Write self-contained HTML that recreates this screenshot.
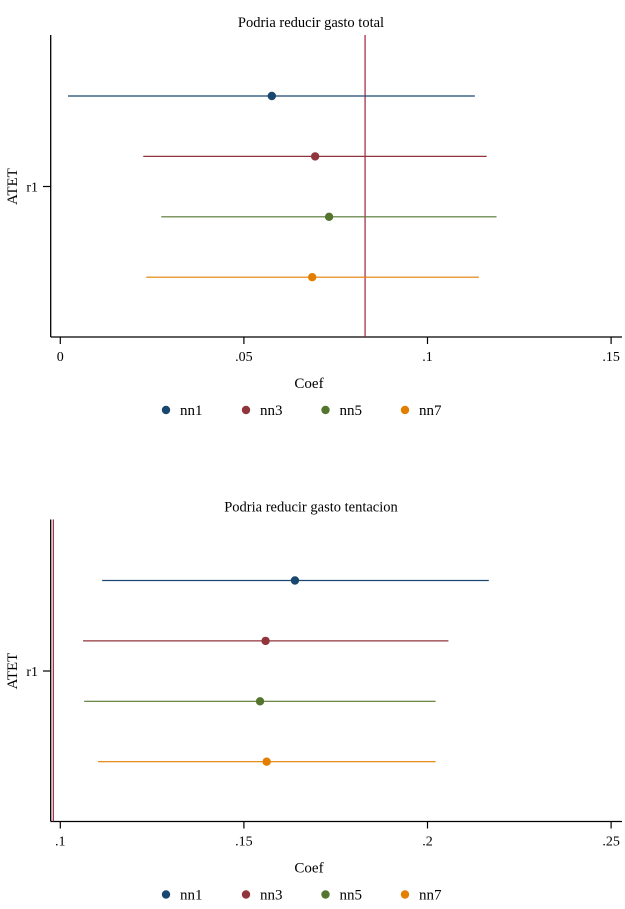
<!DOCTYPE html>
<html><head><meta charset="utf-8"><style>
html,body{margin:0;padding:0;background:#fff;}
svg{display:block;font-family:"Liberation Serif",serif;}
</style></head><body>
<svg id="chart" width="625" height="909" viewBox="0 0 625 909" xmlns="http://www.w3.org/2000/svg"></svg>
<script>
const seriesNames = ["nn1","nn3","nn5","nn7"];
const seriesColors = ["#1a476f","#90353b","#55752f","#e37e00"];
const panelTitles = ["Podria reducir gasto total","Podria reducir gasto tentacion"];
const refValues = [0.083, 0.0981];
const xTicks1 = [0, 0.05, 0.1, 0.15];
const xTickLabels1 = ["0",".05",".1",".15"];
const xTicks2 = [0.1, 0.15, 0.2, 0.25];
const xTickLabels2 = [".1",".15",".2",".25"];
const point1 = [0.0576, 0.0694, 0.0732, 0.0686];
const lower1 = [0.0021, 0.0226, 0.0275, 0.0234];
const upper1 = [0.1129, 0.1161, 0.1188, 0.1140];
const point2 = [0.1639, 0.1559, 0.1544, 0.1562];
const lower2 = [0.1114, 0.1062, 0.1065, 0.1103];
const upper2 = [0.2167, 0.2057, 0.2022, 0.2022];

const svg = document.getElementById('chart');
const NS = "http://www.w3.org/2000/svg";
function mk(tag, attrs, parent){ const e=document.createElementNS(NS,tag); for(const k in attrs) e.setAttribute(k,attrs[k]); (parent||svg).appendChild(e); return e; }

function panel(idx, top, xmin, ticks, labels, pts, lo, hi){
  const g = mk('g',{});
  
  
  const axisLeft = 50.7, axisBottom = top + 302, plotTop = top;
  const x = v => 60.3 + (v - xmin) * 3672;
  const rowY = i => plotTop + 61 + i * 60.4;
  const t = mk('text',{x:311,y:top-8,'text-anchor':'middle','font-size':14.5,fill:'#000'},g);
  t.textContent = panelTitles[idx];
  
  
  const ya = mk('line',{x1:axisLeft,y1:plotTop,x2:axisLeft,y2:axisBottom,stroke:'#000','stroke-width':1.3},g);
  
  
  const xa = mk('line',{x1:axisLeft,y1:axisBottom,x2:622,y2:axisBottom,stroke:'#000','stroke-width':1.3},g);
  
  
  const rl = mk('line',{x1:x(refValues[idx]),y1:plotTop,x2:x(refValues[idx]),y2:axisBottom,stroke:'#a3203f','stroke-width':1.2},g);
  
  
  ticks.forEach((v,i)=>{
    const tk = mk('line',{x1:x(v),y1:axisBottom,x2:x(v),y2:axisBottom+7,stroke:'#000','stroke-width':1.2},g);
    
    
    const tl = mk('text',{x:x(v),y:axisBottom+24,'text-anchor':'middle','font-size':14,fill:'#000'},g);
    tl.textContent = labels[i];
    
    
  });
  const ry = plotTop + 151.5;
  const yt = mk('line',{x1:43,y1:ry,x2:axisLeft,y2:ry,stroke:'#000','stroke-width':1.2},g);
  
  
  const ytl = mk('text',{x:38,y:ry+5,'text-anchor':'end','font-size':14,fill:'#000'},g);
  ytl.textContent = 'r1';
  
  
  const yat = mk('text',{x:0,y:0,'text-anchor':'middle','font-size':15,fill:'#000',transform:`translate(17,${ry}) rotate(-90)`},g);
  yat.textContent = 'ATET';
  
  
  const xat = mk('text',{x:309,y:axisBottom+51,'text-anchor':'middle','font-size':15,fill:'#000'},g);
  xat.textContent = 'Coef';
  
  
  seriesNames.forEach((n,i)=>{
    const ci = mk('line',{x1:x(lo[i]),y1:rowY(i),x2:x(hi[i]),y2:rowY(i),stroke:seriesColors[i],'stroke-width':1.2},g);
    
    
    const p = mk('circle',{cx:x(pts[i]),cy:rowY(i),r:4.2,fill:seriesColors[i]},g);
    
    
  });
  const ly = axisBottom + 73;
  const lxs = [166,246,325.5,405];
  seriesNames.forEach((n,i)=>{
    const d = mk('circle',{cx:lxs[i],cy:ly,r:4.2,fill:seriesColors[i]},g);
    
    
    const lt = mk('text',{x:lxs[i]+14,y:ly+5,'font-size':15,fill:'#000'},g);
    lt.textContent = n;
    
    
  });
}
panel(0, 35, 0, xTicks1, xTickLabels1, point1, lower1, upper1);
panel(1, 519.5, 0.1, xTicks2, xTickLabels2, point2, lower2, upper2);
</script>
</body></html>
